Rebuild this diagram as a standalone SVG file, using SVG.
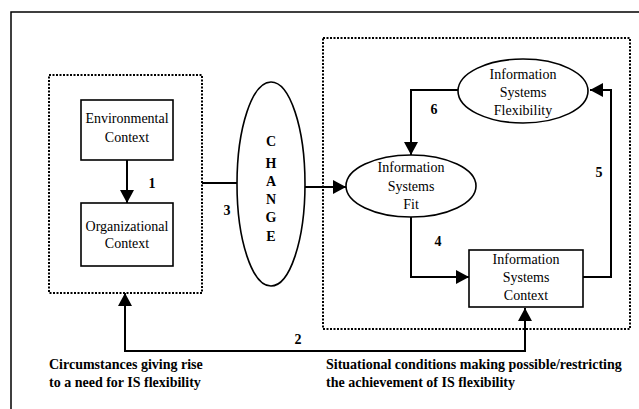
<svg xmlns="http://www.w3.org/2000/svg" width="639" height="409" viewBox="0 0 639 409">
<defs>
<style>
.frame{fill:none;stroke:#000;stroke-width:1.5}
.dot{fill:none;stroke:#000;stroke-width:2;stroke-dasharray:2 1.5}
.box{fill:#fff;stroke:#000;stroke-width:1.6}
.conn{fill:none;stroke:#000;stroke-width:2}
.t{font-family:"Liberation Serif","Times New Roman",serif;font-size:14px;fill:#000;text-anchor:middle}
.b{font-family:"Liberation Serif","Times New Roman",serif;font-size:14px;font-weight:bold;fill:#000}
.c{text-anchor:middle}
</style>
<marker id="ah" markerUnits="userSpaceOnUse" markerWidth="13" markerHeight="14" refX="13" refY="7" orient="auto-start-reverse">
<path d="M0,0 L13,7 L0,14 z" fill="#000"/>
</marker>
</defs>
<rect width="639" height="409" fill="#fff"/>
<rect class="frame" x="11" y="12" width="700" height="500"/>
<rect class="dot" x="49" y="75" width="153" height="218"/>
<rect class="dot" x="323" y="38" width="307" height="291"/>
<g id="connectors">
<path class="conn" d="M127,160 V203" marker-end="url(#ah)"/>
<path class="conn" d="M202,183 H237"/>
<path class="conn" d="M305,187 H346" marker-end="url(#ah)"/>
<path class="conn" d="M458,90 H411 V155" marker-end="url(#ah)"/>
<path class="conn" d="M411,217 V277 H469" marker-end="url(#ah)"/>
<path class="conn" d="M583,277 H611 V90 H590" marker-end="url(#ah)"/>
<path class="conn" d="M125,293 V351 H525 V308" marker-start="url(#ah)" marker-end="url(#ah)"/>
<text class="b c" x="152" y="188">1</text>
<text class="b c" x="298" y="344">2</text>
<text class="b c" x="227" y="215">3</text>
<text class="b c" x="438" y="246">4</text>
<text class="b c" x="599" y="177">5</text>
<text class="b c" x="434" y="114">6</text>
</g>
<g id="env">
<rect class="box" x="81" y="100" width="92" height="60"/>
<text class="t" x="127" y="123">Environmental</text>
<text class="t" x="127" y="142">Context</text>
</g>
<g id="org">
<rect class="box" x="81" y="203" width="92" height="63"/>
<text class="t" x="127" y="231">Organizational</text>
<text class="t" x="127" y="248">Context</text>
</g>
<g id="change">
<ellipse class="box" cx="271" cy="184" rx="34" ry="102"/>
<text class="b c" x="271" y="146">C</text>
<text class="b c" x="271" y="168">H</text>
<text class="b c" x="271" y="186">A</text>
<text class="b c" x="271" y="204">N</text>
<text class="b c" x="271" y="222">G</text>
<text class="b c" x="271" y="241">E</text>
</g>
<g id="isflex">
<ellipse class="box" cx="523" cy="91" rx="65" ry="32"/>
<text class="t" x="523" y="79">Information</text>
<text class="t" x="523" y="97">Systems</text>
<text class="t" x="523" y="115">Flexibility</text>
</g>
<g id="isfit">
<ellipse class="box" cx="411" cy="186" rx="65" ry="31"/>
<text class="t" x="411" y="172">Information</text>
<text class="t" x="411" y="191">Systems</text>
<text class="t" x="411" y="209">Fit</text>
</g>
<g id="iscontext">
<rect class="box" x="469" y="250" width="114" height="57"/>
<text class="t" x="526" y="264">Information</text>
<text class="t" x="526" y="282">Systems</text>
<text class="t" x="526" y="300">Context</text>
</g>
<g id="captions">
<text class="b" x="49" y="369">Circumstances giving rise</text>
<text class="b" x="49" y="387">to a need for IS flexibility</text>
<text class="b" x="326" y="369">Situational conditions making possible/restricting</text>
<text class="b" x="326" y="387">the achievement of IS flexibility</text>
</g>
</svg>
